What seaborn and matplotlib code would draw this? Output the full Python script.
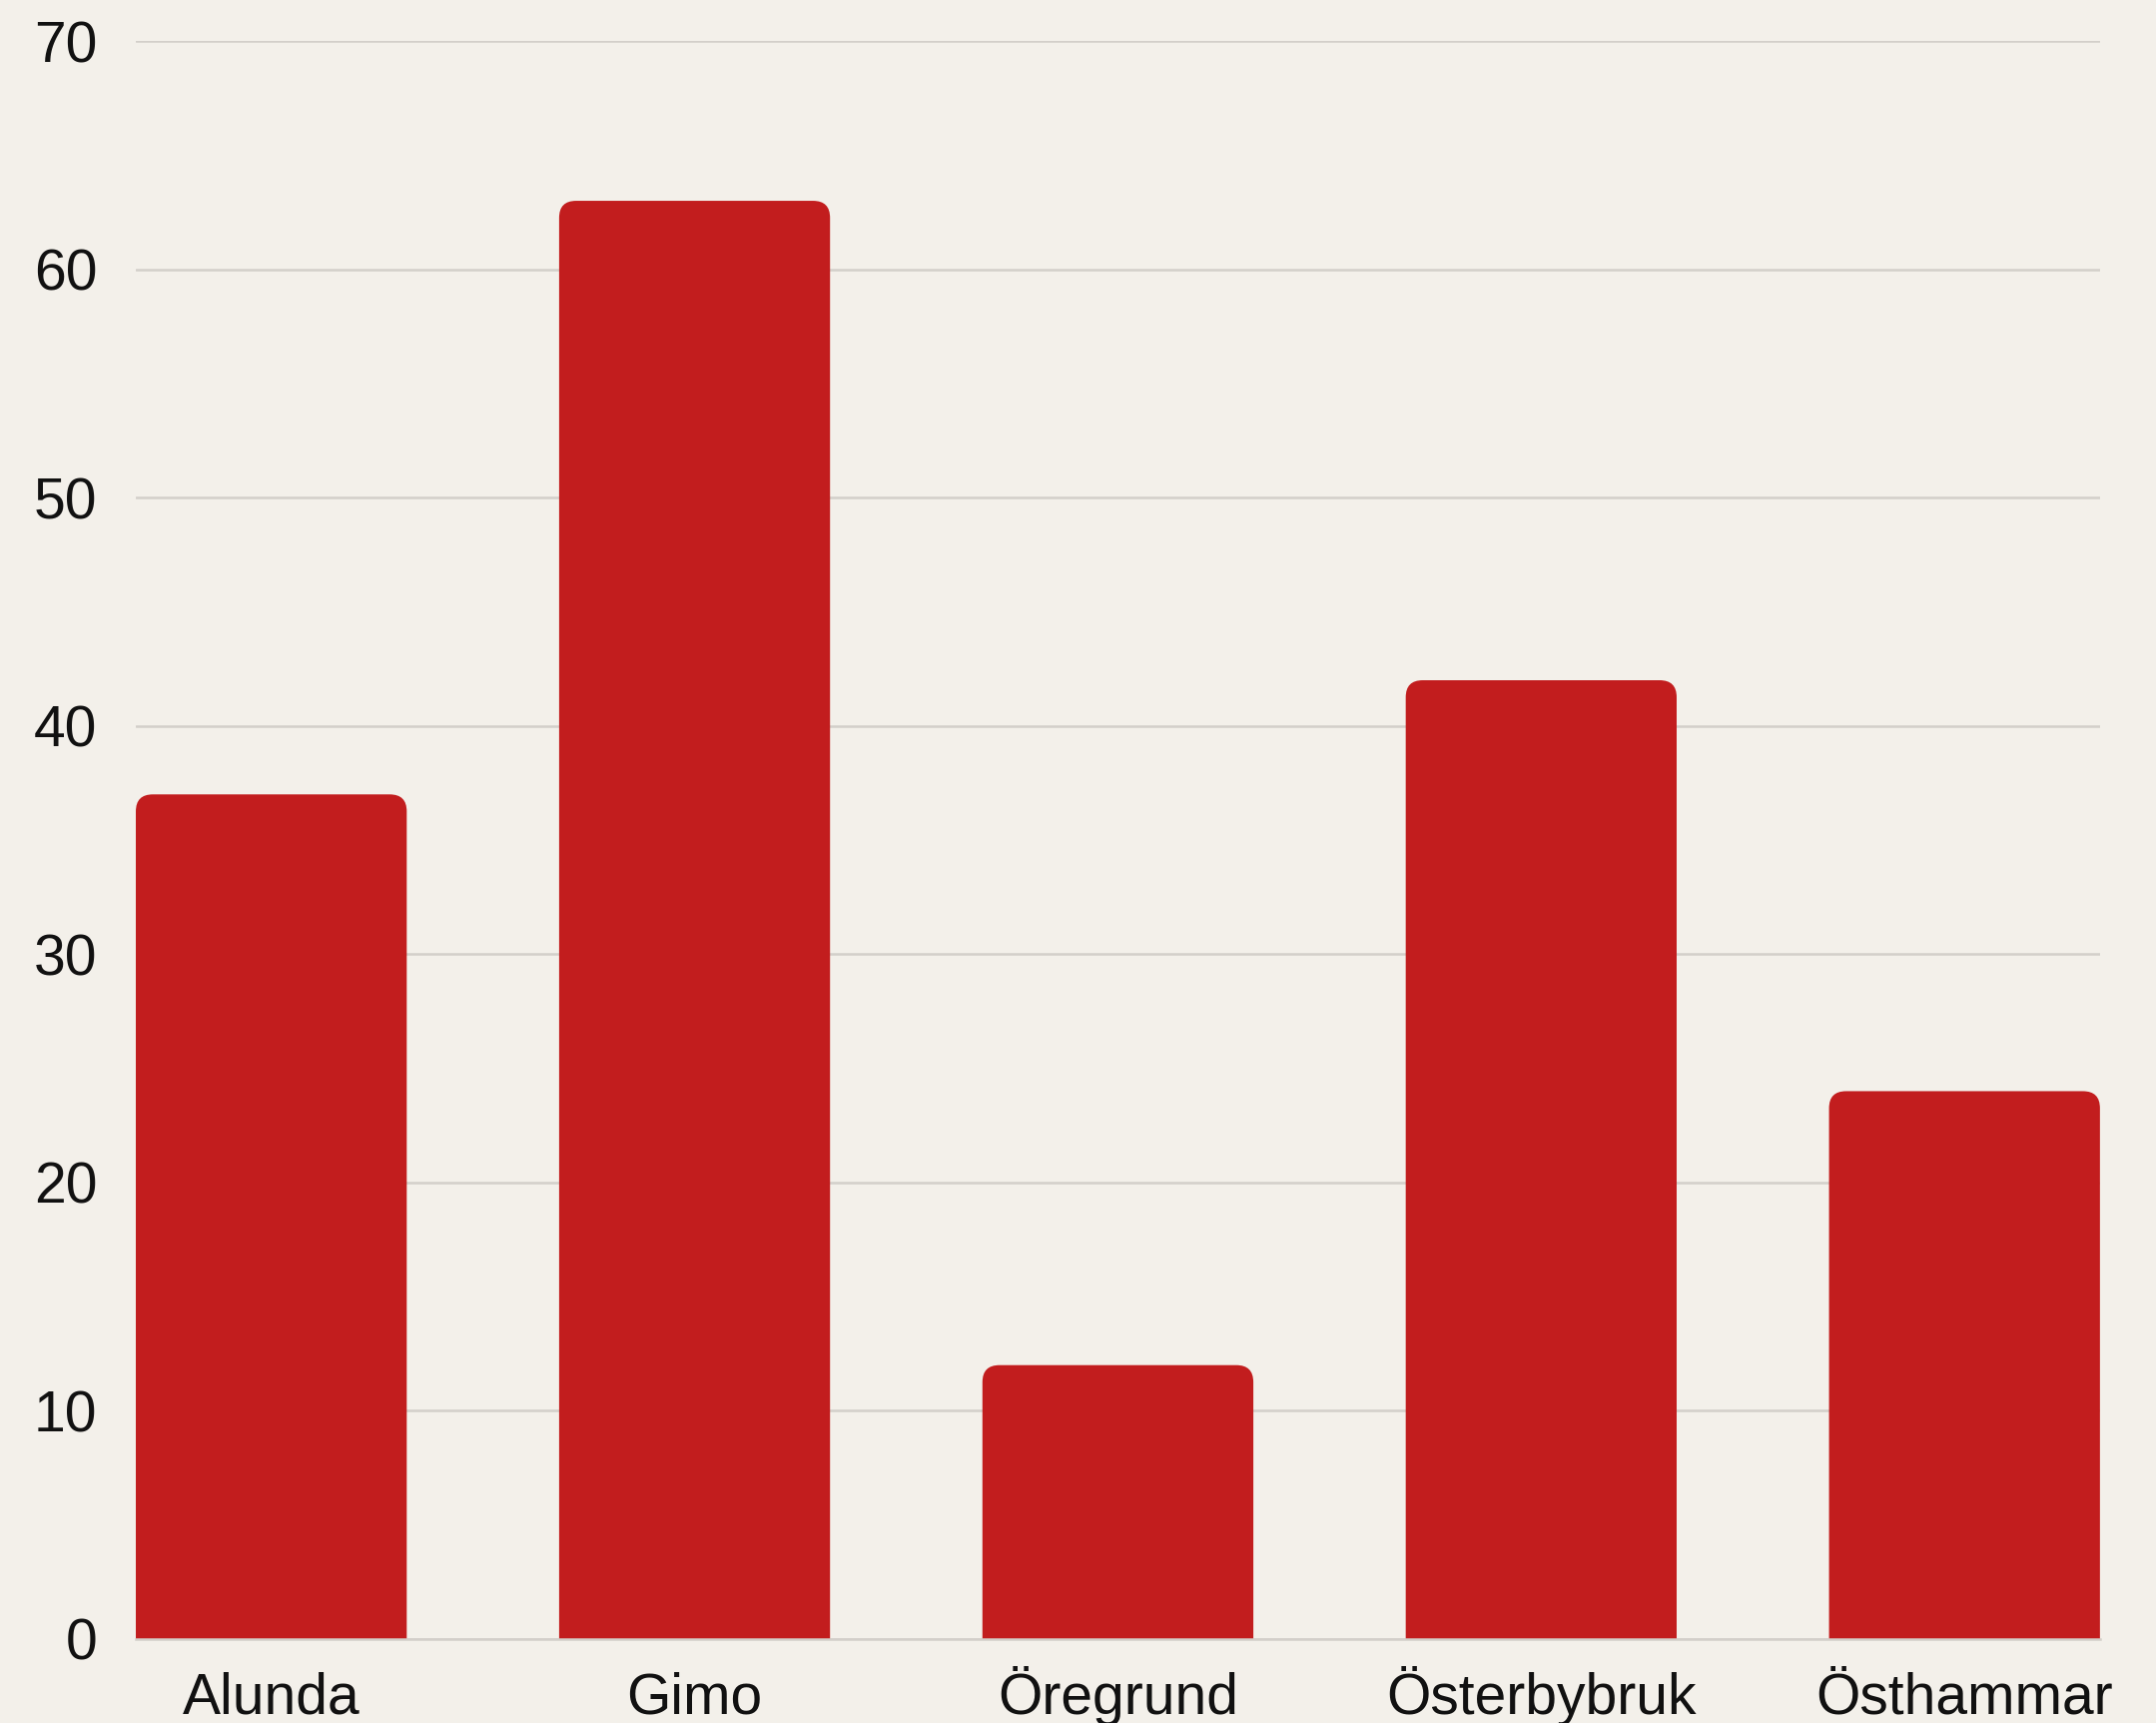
import pandas as pd
import matplotlib
matplotlib.use("Agg")
import matplotlib.pyplot as plt
from matplotlib.patches import FancyBboxPatch
import seaborn as sns

# data
orter = ["Alunda", "Gimo", "Öregrund", "Österbybruk", "Östhammar"]
antal = [37, 63, 12, 42, 24]
yticks = [0, 10, 20, 30, 40, 50, 60, 70]

bg = "#F3F0EA"
red = "#C21D1E"
gridc = "#D3CFCA"

sns.set_theme(style="white", rc={"axes.facecolor": bg, "figure.facecolor": bg})
plt.rcParams['font.family'] = ['Liberation Sans', 'DejaVu Sans']

df = pd.DataFrame({"ort": orter, "antal": antal})

fig = plt.figure(figsize=(21.59, 17.25), dpi=100)
ax = fig.add_axes([0.063, 0.0487, 0.911, 0.9275])

sns.barplot(data=df, x="ort", y="antal", color=red, width=0.64, saturation=1, ax=ax)

ax.set_xlim(-0.32, 4.32)
ax.set_ylim(0, 70)
ax.set_yticks(yticks)
ax.set_xlabel("")
ax.set_ylabel("")
ax.yaxis.grid(True, color=gridc, linewidth=1.8)
ax.set_axisbelow(True)
sns.despine(ax=ax, left=True)
ax.spines["bottom"].set_color(gridc)
ax.spines["bottom"].set_linewidth(1.8)
ax.tick_params(axis="both", length=0, labelsize=41, colors="#111111")
ax.tick_params(axis="y", pad=28)
ax.tick_params(axis="x", pad=54)
# line up the x labels on their baseline, like the reference
for lab in ax.get_xticklabels():
    lab.set_verticalalignment("baseline")

# swap plain bars for bars with rounded top corners
fig.canvas.draw()
p0 = ax.transData.transform((0, 0))
p1 = ax.transData.transform((1, 1))
px_x = p1[0] - p0[0]
px_y = p1[1] - p0[1]
r = 17 / px_x  # rounding radius in x data units
for bar in list(ax.patches):
    x, w, h = bar.get_x(), bar.get_width(), bar.get_height()
    fb = FancyBboxPatch((x, -5), w, h + 5,
                        boxstyle=f"round,pad=0,rounding_size={r}",
                        mutation_aspect=px_x / px_y,
                        facecolor=red, edgecolor="none", zorder=2)
    bar.remove()
    ax.add_patch(fb)

plt.savefig("out.png", dpi=100)
